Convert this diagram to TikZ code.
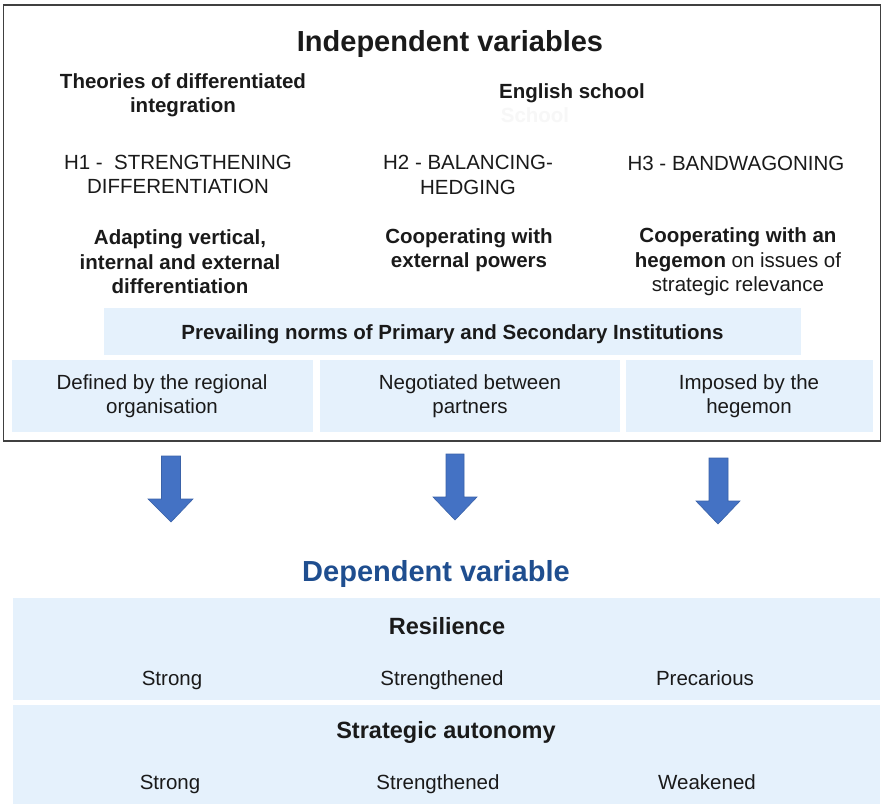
\documentclass[tikz,border=0pt]{standalone}
\usepackage{fontspec}
\setmainfont{Liberation Sans}
\definecolor{boxblue}{HTML}{E5F1FC}
\definecolor{arrowblue}{HTML}{4472C4}
\definecolor{arrowedge}{HTML}{3A62A8}
\definecolor{titleblue}{HTML}{1F4E8F}
\definecolor{txt}{HTML}{1A1A1A}
\begin{document}
\begin{tikzpicture}[x=1pt,y=-1pt,
  every node/.style={text=txt,align=center,inner sep=0pt},
  big/.style={font=\fontsize{29}{34}\selectfont\bfseries},
  hd/.style={font=\fontsize{20.5}{24.5}\selectfont\bfseries},
  hdb/.style={font=\fontsize{23.5}{28}\selectfont\bfseries},
  rg/.style={font=\fontsize{20.5}{24.5}\selectfont},
  lbox/.style={fill=boxblue,draw=none},
  barrow/.style={fill=arrowblue,draw=arrowedge,line width=0.6pt,line join=miter}]
\useasboundingbox (0,0) rectangle (883,804);
\fill[white] (0,0) rectangle (883,804);
% outer frame
\draw[line width=1.6pt,draw=black!75] (3.5,5) rectangle (880.5,441);
% header texts
\node[big,anchor=base] (indep) at (450,51.5) {Independent variables};
\node[hd] (theo) at (183,95) {Theories of differentiated\\integration};
\node[hd,anchor=base] (engl) at (572,98) {English school};
\node[hd,text=black!3,anchor=base] (ghost) at (535,122) {School};
\node[rg] (h1) at (178,174.5) {H1 -\ \ STRENGTHENING\\DIFFERENTIATION};
\node[rg] (h2) at (468,175) {H2 - BALANCING-\\HEDGING};
\node[rg,anchor=base] (h3) at (736,170.5) {H3 - BANDWAGONING};
\node[hd] (a1) at (180,262) {Adapting vertical,\\internal and external\\differentiation};
\node[hd] (a2) at (469,250) {Cooperating with\\external powers};
\node[rg] (a3) at (738,262) {\textbf{Cooperating with an}\\\textbf{hegemon} on issues of\\strategic relevance};
% norms
\fill[lbox] (104,308) rectangle (801,355);
\node[hd,anchor=base] (norms) at (452.5,339.5) {Prevailing norms of Primary and Secondary Institutions};
\fill[lbox] (12,360) rectangle (313,432);
\fill[lbox] (320,360) rectangle (620,432);
\fill[lbox] (626,360) rectangle (873,432);
\node[rg] (n1) at (162,396) {Defined by the regional\\organisation};
\node[rg] (n2) at (470,396) {Negotiated between\\partners};
\node[rg] (n3) at (749,396) {Imposed by the\\hegemon};
% arrows
\draw[barrow] (161.5,456) -- (180.5,456) -- (180.5,499) -- (193,499) -- (171,522) -- (148,499) -- (161.5,499) -- cycle;
\draw[barrow] (446,454) -- (464,454) -- (464,497) -- (477,497) -- (455,520) -- (433,497) -- (446,497) -- cycle;
\draw[barrow] (709,458) -- (728,458) -- (728,501) -- (740,501) -- (718,524) -- (696,501) -- (709,501) -- cycle;
% dependent
\node[font=\fontsize{29}{34}\selectfont\bfseries,text=titleblue,anchor=base] (dep) at (436,581.5) {Dependent variable};
\fill[lbox] (13,598) rectangle (880,700);
\fill[lbox] (13,705) rectangle (880,804);
\node[hdb,anchor=base] (res) at (447,634) {Resilience};
\node[rg,anchor=base] (r1) at (172,685) {Strong};
\node[rg,anchor=base] (r2) at (442,685) {Strengthened};
\node[rg,anchor=base] (r3) at (705,685) {Precarious};
\node[hdb,anchor=base] (sa) at (446,738.5) {Strategic autonomy};
\node[rg,anchor=base] (s1) at (170,789) {Strong};
\node[rg,anchor=base] (s2) at (438,789) {Strengthened};
\node[rg,anchor=base] (s3) at (707,789) {Weakened};
\end{tikzpicture}
\end{document}
